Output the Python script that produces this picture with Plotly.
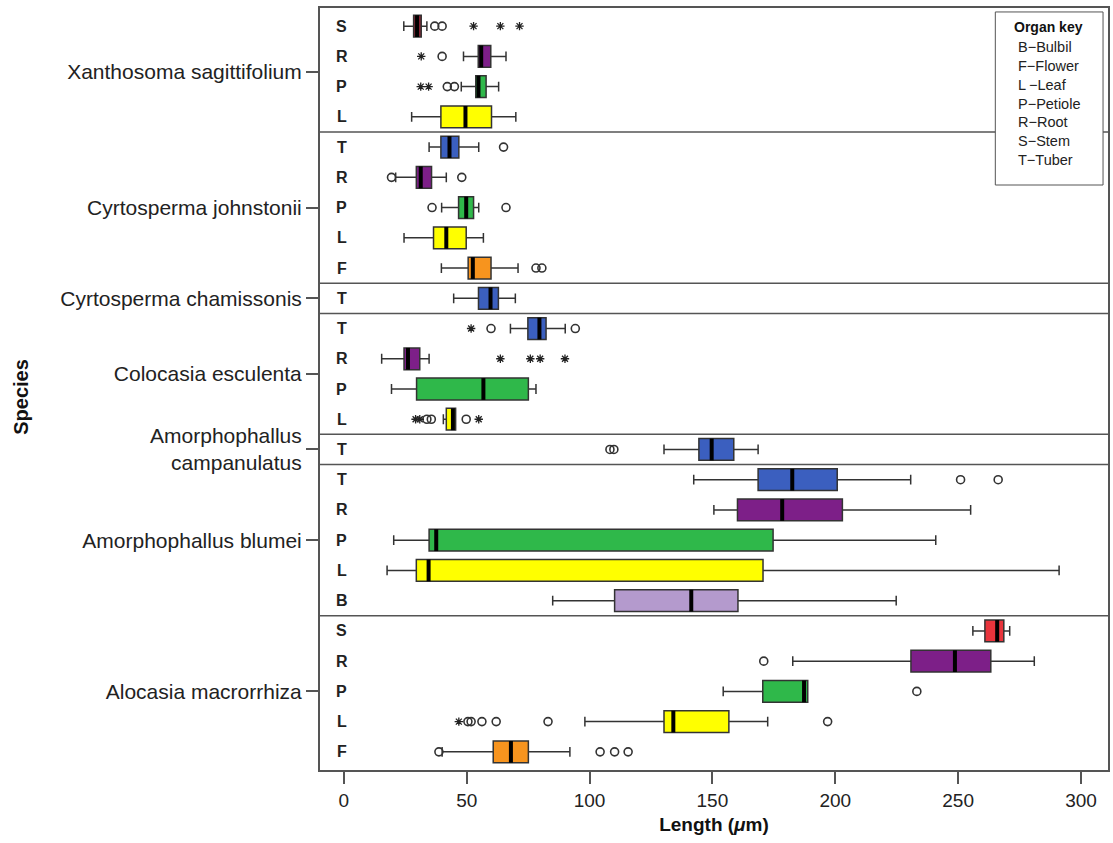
import plotly.graph_objects as go

# ---------------- data ----------------
species_names = ["Xanthosoma sagittifolium", "Cyrtosperma johnstonii", "Cyrtosperma chamissonis",
                 "Colocasia esculenta", "Amorphophallus<br>campanulatus", "Amorphophallus blumei",
                 "Alocasia macrorrhiza"]
species_organs = [["S", "R", "P", "L"], ["T", "R", "P", "L", "F"], ["T"], ["T", "R", "P", "L"],
                  ["T"], ["T", "R", "P", "L", "B"], ["S", "R", "P", "L", "F"]]

lower_whisker = [24.4, 48.7, 47.8, 27.6,
                 34.7, 21.1, 39.8, 24.5, 39.7,
                 44.7,
                 67.8, 15.4, 19.4, 40.5,
                 130.3,
                 142.4, 150.6, 20.3, 17.6, 85.0,
                 256.0, 182.7, 154.4, 98.1, 40.0]
q1 = [28.4, 54.7, 53.7, 39.5,
      39.5, 29.5, 46.7, 36.5, 50.6,
      54.8,
      74.9, 24.5, 29.6, 41.7,
      144.5,
      168.6, 160.2, 34.7, 29.5, 110.2,
      260.9, 230.8, 170.5, 130.3, 60.8]
median = [29.8, 55.9, 54.8, 49.5,
          43.0, 31.3, 49.8, 41.7, 52.5,
          59.7,
          79.6, 26.1, 56.8, 44.4,
          149.7,
          182.5, 178.4, 37.6, 34.5, 141.4,
          265.9, 248.7, 187.3, 134.1, 68.0]
q3 = [31.5, 59.8, 57.9, 60.1,
      46.8, 35.7, 52.8, 49.8, 59.9,
      62.9,
      82.3, 30.9, 75.1, 45.5,
      158.7,
      200.8, 202.9, 174.7, 170.6, 160.4,
      268.6, 263.3, 188.8, 156.7, 75.1]
upper_whisker = [33.8, 66.0, 63.0, 70.0,
                 54.9, 41.7, 54.9, 56.8, 70.9,
                 69.8,
                 90.1, 34.7, 78.2, 45.5,
                 168.6,
                 230.7, 255.1, 240.9, 291.1, 224.8,
                 271.0, 281.0, 188.8, 172.5, 92.0]
outliers_circle = [[37.0, 40.0], [40.0], [42.1, 45.0], [],
                   [65.0], [19.4, 48.0], [35.9, 66.0], [], [78.2, 80.6],
                   [],
                   [59.9, 94.2], [], [], [33.8, 35.6, 49.8],
                   [108.3, 109.9],
                   [251.0, 266.3], [], [], [], [],
                   [], [170.9], [233.2], [50.5, 51.8, 56.2, 62.0, 83.1, 196.9], [38.7, 104.3, 110.2, 115.7]]
outliers_star = [[52.8, 63.7, 71.5], [31.5], [31.3, 34.5], [],
                 [], [], [], [], [],
                 [],
                 [51.8], [63.7, 75.9, 79.9, 90.0], [], [29.2, 30.9, 54.9],
                 [],
                 [], [], [], [], [],
                 [], [], [], [46.8], []]

organ_key = ["B\u2212Bulbil", "F\u2212Flower", "L\u2009\u2212Leaf", "P\u2212Petiole",
             "R\u2212Root", "S\u2212Stem", "T\u2212Tuber"]
x_ticks = [0, 50, 100, 150, 200, 250, 300]

# ---------------- styles ----------------
organ_colors = {"S": "#e8343c", "R": "#7d1f88", "P": "#2fb84a", "L": "#ffff00",
                "T": "#3b5fbf", "F": "#f7941e", "B": "#b49acd"}
special_colors = {(0, "S"): "#8c2433"}
BOX_W = 0.72
EDGE = "#333333"
SANS = "Liberation Sans, Arial, sans-serif"

# rows
row_pos, row_organ, row_species = [], [], []
group_centers, group_bounds = [], []
pos = 1
for si, organs in enumerate(species_organs):
    start = pos
    for o in organs:
        row_pos.append(pos)
        row_organ.append(o)
        row_species.append(si)
        pos += 1
    group_centers.append((start + pos - 1) / 2)
    group_bounds.append(pos - 0.5)
n_rows = len(row_pos)

fig = go.Figure()

for i in range(n_rows):
    col = special_colors.get((row_species[i], row_organ[i]), organ_colors[row_organ[i]])
    fig.add_trace(go.Box(
        y=[row_pos[i]], q1=[q1[i]], median=[median[i]], q3=[q3[i]],
        lowerfence=[lower_whisker[i]], upperfence=[upper_whisker[i]],
        orientation="h", width=BOX_W, whiskerwidth=0.45,
        fillcolor=col, line=dict(color=EDGE, width=1.5),
        boxpoints=False, showlegend=False, hoverinfo="skip"))

# medians
mx, my = [], []
for i in range(n_rows):
    mx += [median[i], median[i], None]
    my += [row_pos[i] - BOX_W / 2, row_pos[i] + BOX_W / 2, None]
fig.add_trace(go.Scatter(x=mx, y=my, mode="lines", line=dict(color="black", width=4),
                         showlegend=False, hoverinfo="skip"))

# outliers
cx, cy, sx, sy = [], [], [], []
for i in range(n_rows):
    cx += outliers_circle[i]
    cy += [row_pos[i]] * len(outliers_circle[i])
    sx += outliers_star[i]
    sy += [row_pos[i]] * len(outliers_star[i])
fig.add_trace(go.Scatter(x=cx, y=cy, mode="markers",
                         marker=dict(symbol="circle-open", size=8, color="#333333", line=dict(width=1.6)),
                         showlegend=False, hoverinfo="skip"))
fig.add_trace(go.Scatter(x=sx, y=sy, mode="markers",
                         marker=dict(symbol="asterisk-open", size=7, color="#222222", line=dict(width=1.3)),
                         showlegend=False, hoverinfo="skip"))

# organ letters
for i in range(n_rows):
    fig.add_annotation(x=-0.8, y=row_pos[i], xref="x", yref="y", text="<b>%s</b>" % row_organ[i],
                       showarrow=False, xanchor="center", yanchor="middle",
                       font=dict(family=SANS, size=16, color="#222"))

# group separators
for b in group_bounds[:-1]:
    fig.add_shape(type="line", xref="paper", x0=0, x1=1, yref="y", y0=b, y1=b,
                  line=dict(color="#555555", width=1.5))

# organ key box
fig.add_shape(type="rect", xref="paper", yref="paper", x0=0.857, x1=0.9937, y0=0.7677, y1=0.9948,
              line=dict(color="#555555", width=1), fillcolor="white")
fig.add_annotation(xref="paper", yref="paper", x=0.925, y=0.975, text="<b>Organ key</b>",
                   showarrow=False, xanchor="center", yanchor="middle",
                   font=dict(family=SANS, size=14, color="#111"))
fig.add_annotation(xref="paper", yref="paper", x=0.8835, y=0.962, text="<br>".join(organ_key),
                   showarrow=False, xanchor="left", yanchor="top", align="left",
                   font=dict(family=SANS, size=14.5, color="#222"))

# y axis title
fig.add_annotation(xref="paper", yref="paper", x=-0.3797, y=0.4895, text="<b>Species</b>",
                   showarrow=False, textangle=-90, xanchor="center", yanchor="middle",
                   font=dict(family=SANS, size=20, color="#111"))

fig.update_layout(
    width=1113, height=843,
    margin=dict(l=320, r=3, t=8, b=73),
    paper_bgcolor="white", plot_bgcolor="white",
    boxmode="overlay",
    font=dict(family=SANS, color="#222"),
    xaxis=dict(range=[-9.7, 311], tickvals=x_ticks, ticktext=[str(t) for t in x_ticks],
               showgrid=False, zeroline=False, showline=True, mirror=True,
               linecolor="#555555", linewidth=2, ticks="outside", ticklen=12, tickwidth=1.5,
               tickcolor="#555555", tickfont=dict(family=SANS, size=19, color="#222"),
               title=dict(text="<b>Length (<i>\u03bc</i>m)</b>", font=dict(family=SANS, size=19, color="#111"),
                          standoff=8)),
    yaxis=dict(range=[n_rows + 0.6, 0.4], tickvals=group_centers, ticktext=species_names,
               showgrid=False, zeroline=False, showline=True, mirror=True,
               linecolor="#555555", linewidth=2, ticks="outside", ticklen=12, tickwidth=1.5,
               tickcolor="#555555", tickfont=dict(family=SANS, size=21, color="#222")),
)

fig.write_html("out.html", config={"displayModeBar": False},
               post_script="document.body.style.margin='0';document.body.style.overflow='hidden';")
